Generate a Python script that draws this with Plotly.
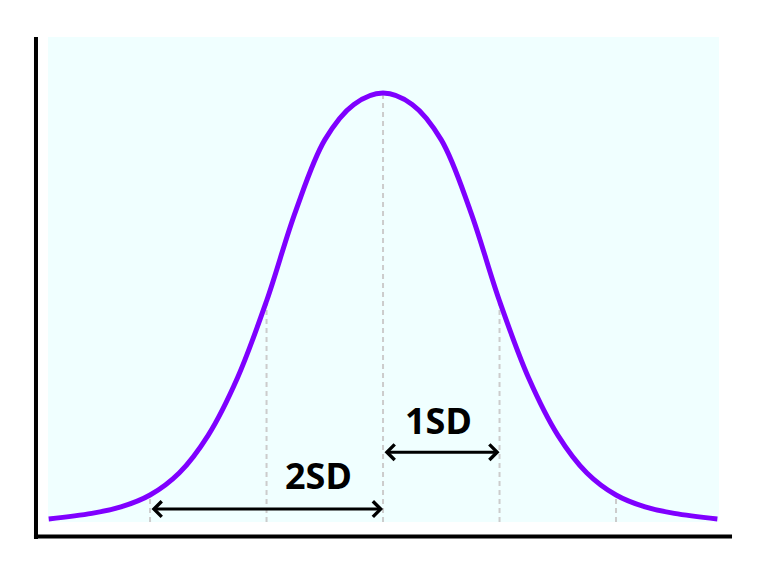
import plotly.graph_objects as go

# ---- data (x in SD units, y as density) ----
x_right = [0.0, 0.25, 0.5, 0.75, 1.0, 1.25, 1.5, 1.75, 2.0, 2.25, 2.5, 2.87]
y_right = [0.3991, 0.3885, 0.3555, 0.2893, 0.2056, 0.1340, 0.0809, 0.0456,
           0.0251, 0.0140, 0.0080, 0.0028]

x_curve = [-v for v in x_right[::-1]] + x_right[1:]
y_curve = y_right[::-1] + y_right[1:]

sd_marks = [-2, -1, 0, 1, 2]

arrow_labels = ["2SD", "1SD"]
arrow_start = [-2, 0]
arrow_end = [0, 1]
arrow_y = [0.012, 0.065]
label_x = [-0.55, 0.48]
label_y = [0.043, 0.094]

CURVE = "#7f00ff"
BG = "#f0ffff"

fig = go.Figure()
fig.add_trace(go.Scatter(
    x=x_curve, y=y_curve, mode="lines",
    line=dict(color=CURVE, width=5, shape="spline", smoothing=1.0),
    hoverinfo="skip", showlegend=False))

shapes = []
for m in sd_marks:
    i = x_curve.index(m)
    shapes.append(dict(type="line", xref="x", yref="y", x0=m, x1=m,
                       y0=0, y1=y_curve[i], layer="below",
                       line=dict(color="#cccccc", width=2, dash="5px,4px")))
# axis lines (outside plot area)
shapes.append(dict(type="line", xref="paper", yref="paper",
                   x0=-0.0179, x1=-0.0179, y0=1.0, y1=-0.035,
                   line=dict(color="black", width=4)))
shapes.append(dict(type="line", xref="paper", yref="paper",
                   x0=-0.0209, x1=1.0194, y0=-0.0299, y1=-0.0299,
                   line=dict(color="black", width=4)))

annotations = []
for lab, a0, a1, ay, lx, ly in zip(arrow_labels, arrow_start, arrow_end,
                                   arrow_y, label_x, label_y):
    annotations.append(dict(x=a1, y=ay, ax=a0, ay=ay, xref="x", yref="y",
                            axref="x", ayref="y", text="", showarrow=True,
                            arrowhead=4, startarrowhead=4, arrowside="end+start",
                            arrowsize=1.0, startarrowsize=1.0,
                            arrowwidth=3, arrowcolor="black",
                            standoff=0, startstandoff=0))
    annotations.append(dict(x=lx, y=ly, xref="x", yref="y", text=f"<b>{lab}</b>",
                            showarrow=False,
                            font=dict(family="Noto Sans", size=36, color="black")))

fig.update_layout(
    width=760, height=563,
    margin=dict(l=40, r=49, t=29, b=49),
    paper_bgcolor="white", plot_bgcolor=BG,
    xaxis=dict(range=[-2.876, 2.884], visible=False, showgrid=False, zeroline=False),
    yaxis=dict(range=[0, 0.4512], visible=False, showgrid=False, zeroline=False),
    shapes=shapes, annotations=annotations,
    showlegend=False,
)

fig.write_html("out.html")
